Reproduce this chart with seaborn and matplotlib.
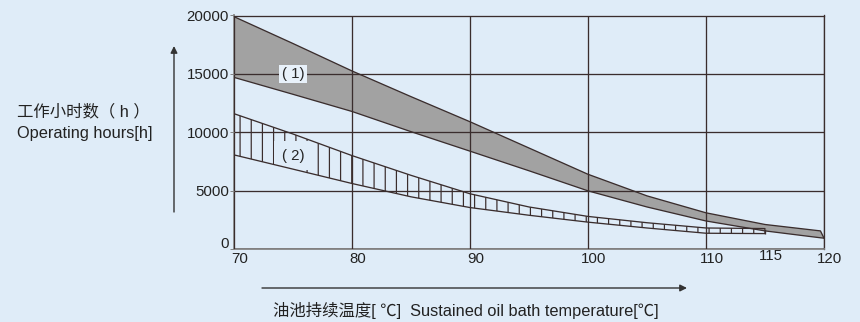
import matplotlib
matplotlib.use('Agg')
import matplotlib.pyplot as plt
import matplotlib.transforms as mtransforms
import pandas as pd
import seaborn as sns

# band (1): upper / lower limits of operating hours
temp_1 = [70, 75, 80, 85, 90, 95, 100, 105, 110, 115, 119.7, 120]
hours_1_upper = [19900, 17600, 15250, 13050, 10900, 8650, 6400, 4550, 3100, 2100, 1550, 930]
hours_1_lower = [14700, 13250, 11780, 10050, 8380, 6700, 4980, 3600, 2400, 1550, 960, 930]

# band (2)
temp_2 = [70, 75, 80, 85, 90, 95, 100, 105, 110, 115]
hours_2_upper = [11590, 9850, 8000, 6310, 4730, 3600, 2790, 2250, 1800, 1750]
hours_2_lower = [8060, 6840, 5610, 4470, 3550, 2890, 2300, 1800, 1350, 1320]

x_ticks = [70, 80, 90, 100, 110, 120]
x_extra_tick = 115
y_ticks = [0, 5000, 10000, 15000, 20000]
band_labels = ['( 1)', '( 2)']

ylabel_cn = '工作小时数（ h ）'
ylabel_en = 'Operating hours[h]'
xlabel = '油池持续温度[ ℃]  Sustained oil bath temperature[℃]'

bg = '#dfecf8'
dark = '#3a2d2d'
grey_axis = '#858585'

sns.set_theme(style='white')
plt.rcParams['font.family'] = ['Liberation Sans', 'Noto Sans CJK SC', 'DejaVu Sans']
plt.rcParams['hatch.linewidth'] = 1.3

DPI = 67
W, H = 861, 322
PT = 72 / DPI  # points per pixel
FS = 15 * PT
FS_TITLE = 16.4 * PT

fig = plt.figure(figsize=(W / DPI, H / DPI), dpi=DPI, facecolor=bg)
ax = fig.add_axes([234 / W, 1 - 249 / H, 590 / W, (249 - 15.5) / H])
ax.set_facecolor(bg)

df1 = pd.DataFrame({'temp': temp_1, 'upper': hours_1_upper, 'lower': hours_1_lower})
df2 = pd.DataFrame({'temp': temp_2, 'upper': hours_2_upper, 'lower': hours_2_lower})

# band 1: grey fill
ax.fill_between(df1['temp'], df1['lower'], df1['upper'], facecolor='#a2a2a2',
                edgecolor='none', zorder=1)
# band 2: vertical hatch
ax.fill_between(df2['temp'], df2['lower'], df2['upper'], facecolor='none',
                edgecolor=dark, hatch='|', linewidth=0, zorder=1)

for df in (df1, df2):
    sns.lineplot(data=df, x='temp', y='upper', color=dark, lw=1.3 * PT, ax=ax, zorder=4)
    sns.lineplot(data=df, x='temp', y='lower', color=dark, lw=1.3 * PT, ax=ax, zorder=4)
ax.vlines([df1['temp'].iloc[-1]], df1['lower'].iloc[-1], df1['upper'].iloc[-1],
          color=dark, lw=1.3 * PT, zorder=4)
ax.vlines([df2['temp'].iloc[-1]], df2['lower'].iloc[-1], df2['upper'].iloc[-1],
          color=dark, lw=1.3 * PT, zorder=4)

ax.text(75.0, 15000, band_labels[0], fontsize=FS, ha='center', va='center', zorder=3,
        bbox=dict(boxstyle='square,pad=0.15', facecolor='#e8f1fa', edgecolor='none'))
ax.text(75.0, 8000, band_labels[1], fontsize=FS, ha='center', va='center', zorder=3,
        bbox=dict(boxstyle='square,pad=0.5', facecolor=bg, edgecolor='none'))

ax.set_xlim(70, 120)
ax.set_ylim(0, 20000)
ax.set_xticks(x_ticks)
ax.set_xticklabels([str(t) for t in x_ticks])
ax.set_xticks([x_extra_tick], minor=True)
ax.set_xticklabels([str(x_extra_tick)], minor=True)
ax.set_yticks(y_ticks)
ax.set_yticklabels([str(t) for t in y_ticks])
ax.set_xlabel('')
ax.set_ylabel('')

ax.grid(True, which='major', color=dark, lw=1.3 * PT)
ax.set_axisbelow(False)
ax.tick_params(axis='x', which='both', length=0, pad=3 * PT, labelsize=FS, labelcolor='#222222')
ax.tick_params(axis='x', which='minor', pad=0)
ax.tick_params(axis='y', length=4 * PT, width=1 * PT, color=grey_axis, pad=1 * PT,
               labelsize=FS, labelcolor='#222222', left=True)

for s in ('top', 'right'):
    ax.spines[s].set_color(dark)
    ax.spines[s].set_linewidth(1.3 * PT)
for s in ('left', 'bottom'):
    ax.spines[s].set_color(grey_axis)
    ax.spines[s].set_linewidth(1.8 * PT)

shift_x = mtransforms.ScaledTranslation(6 / DPI, 0, fig.dpi_scale_trans)
for lab in ax.get_xticklabels() + ax.get_xticklabels(minor=True):
    lab.set_transform(lab.get_transform() + shift_x)
zero_lab = ax.get_yticklabels()[0]
zero_lab.set_transform(zero_lab.get_transform() +
                       mtransforms.ScaledTranslation(0, 7 / DPI, fig.dpi_scale_trans))

# axis titles and arrows (figure pixel positions)
fig.text(17 / W, 1 - 112 / H, ylabel_cn, fontsize=FS_TITLE, ha='left', va='center', color='#222222')
fig.text(17 / W, 1 - 133 / H, ylabel_en, fontsize=FS_TITLE, ha='left', va='center', color='#222222')
fig.text(273 / W, 1 - 310 / H, xlabel, fontsize=FS_TITLE, ha='left', va='center', color='#222222')

arrow = dict(arrowstyle='-|>', color='#333333', lw=1.4 * PT, mutation_scale=14 * PT,
             shrinkA=0, shrinkB=0)
ax.annotate('', xy=(174 / W, 1 - 46 / H), xytext=(174 / W, 1 - 212 / H),
            xycoords='figure fraction', textcoords='figure fraction', arrowprops=arrow)
ax.annotate('', xy=(687 / W, 1 - 288 / H), xytext=(262 / W, 1 - 288 / H),
            xycoords='figure fraction', textcoords='figure fraction', arrowprops=arrow)

fig.savefig('out.png', dpi=DPI, facecolor=bg)
